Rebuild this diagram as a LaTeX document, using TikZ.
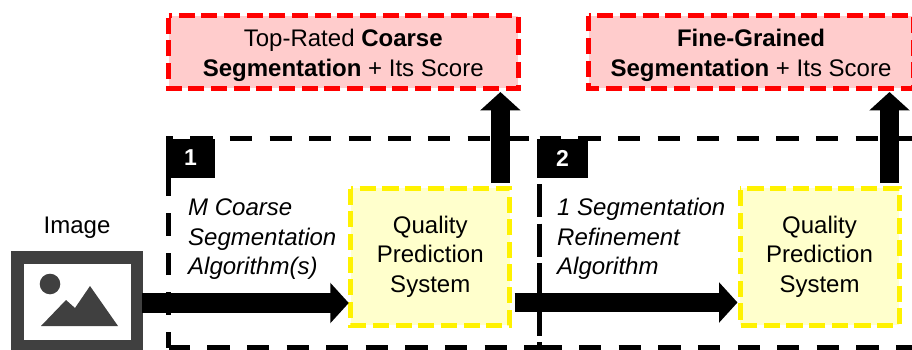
\documentclass[tikz,border=0pt]{standalone}
\usepackage{fontspec}
\setmainfont{Liberation Sans}
\usetikzlibrary{arrows.meta}
\definecolor{iconcol}{HTML}{404040}
\definecolor{redfill}{HTML}{FFCCCC}
\definecolor{yelfill}{HTML}{FFFFCC}
\tikzset{
  x=1pt,y=-1pt,
  basefont/.style={font=\fontsize{24}{29.5}\selectfont},
  frameline/.style={draw=black,line width=5pt,dash pattern=on 22.3pt off 17.3pt},
  splitline/.style={draw=black,line width=5pt,dash pattern=on 33pt off 6.6pt},
  redline/.style={draw=red,line width=5pt,dash pattern=on 16pt off 6.67pt,line join=miter},
  yelline/.style={draw=yellow,line width=5pt,dash pattern=on 16.2pt off 6.45pt,line join=miter},
  result/.style={rectangle,fill=redfill,outer sep=0pt,inner sep=0pt,minimum height=72.5pt},
  quality/.style={rectangle,fill=yelfill,outer sep=0pt,inner sep=0pt,minimum width=159pt,minimum height=137pt,align=center,basefont},
  restext/.style={inner sep=0pt,align=center,basefont},
  badge/.style={rectangle,fill=black,text=white,inner sep=0pt,minimum height=39pt,font=\fontsize{23}{23}\selectfont\bfseries},
  algo/.style={inner sep=0pt,anchor=west,align=left,font=\fontsize{24}{29.5}\selectfont\itshape},
  bigarrow/.style={line width=19.5pt,-{Triangle[length=18.5pt,width=39.5pt]}},
}
\begin{document}
\begin{tikzpicture}
\useasboundingbox (0,0) rectangle (912,350);
% frames
\coordinate (f1tl) at (168.5,138.5);
\coordinate (f1bl) at (168.5,347.5);
\coordinate (f2tl) at (539.5,138.5);
\coordinate (f2bl) at (539.5,347.5);
\coordinate (f2tr) at (925,138.5);
\coordinate (f2br) at (925,347.5);
\coordinate (f2end) at (539.5,350);
\draw[frameline,dash phase=6.8pt] (f1bl) -- (f1tl) -- (f2tl);
\draw[frameline,dash phase=0.8pt] (f1bl) -- (f2bl);
\draw[frameline,dash phase=0.8pt] (f2tl) -- (f2tr);
\draw[frameline] (f2bl) -- (f2br);
\draw[splitline,dash phase=33.7pt] (f2tl) -- (f2end);
% result boxes
\node[result,minimum width=349.5pt] (r1) at (343.25,52.25) {};
\node[result,minimum width=325pt] (r2) at (751,52.25) {};
\draw[redline,dash phase=12.4pt] (r1.north west) -- (r1.north east) -- (r1.south east) -- (r1.south west) -- cycle;
\draw[redline,dash phase=13.9pt] (r2.north west) -- (r2.north east) -- (r2.south east) -- (r2.south west) -- cycle;
\node[restext] (rt1) at ([yshift=-3pt]r1.center) {Top-Rated \textbf{Coarse}\\\textbf{Segmentation} + Its Score};
\node[restext] (rt2) at ([yshift=-3pt]r2.center) {\textbf{Fine-Grained}\\\textbf{Segmentation} + Its Score};
% quality boxes
\node[quality] (q1) at (430.25,256.5) {Quality\\Prediction\\System};
\node[quality] (q2) at (819.5,256.5) {Quality\\Prediction\\System};
\draw[yelline,dash phase=13.7pt] (q1.north west) -- (q1.north east) -- (q1.south east) -- (q1.south west) -- cycle;
\draw[yelline,dash phase=15.3pt] (q2.north west) -- (q2.north east) -- (q2.south east) -- (q2.south west) -- cycle;
% image icon
\node[rectangle,fill=iconcol,minimum width=132pt,minimum height=99pt,inner sep=0pt,outer sep=0pt] (img) at (77,300.5) {};
\node[rectangle,fill=white,minimum width=107pt,minimum height=76pt,inner sep=0pt] (imgin) at (77.5,302) {};
\fill[iconcol] (50,284) circle[radius=10.3];
\fill[iconcol] (41,326) -- (66,300) -- (75,308) -- (90,286) -- (118,326) -- cycle;
\node[inner sep=0pt,basefont] (imglabel) at (77,228) {Image};
% badges
\node[badge,minimum width=48.5pt] (b1) at (190.5,158) {1};
\node[badge,minimum width=51pt] (b2) at (562.5,158) {2};
% algorithm labels
\node[algo] (a1) at (188,239.5) {M Coarse\\Segmentation\\Algorithm(s)};
\node[algo] (a2) at (557,239) {1 Segmentation\\Refinement\\Algorithm};
% arrows
\coordinate (s1) at (142,303);
\coordinate (s2) at (514.5,302.5);
\coordinate (s3) at (500.4,183);
\coordinate (s4) at (889.5,183);
\draw[bigarrow,shorten >=2pt] (s1) -- (s1 -| q1.west);
\draw[bigarrow,shorten >=2.5pt] (s2) -- (s2 -| q2.west);
\draw[bigarrow,shorten >=3.5pt] (s3) -- (s3 |- r1.south);
\draw[bigarrow,shorten >=3.5pt] (s4) -- (s4 |- r2.south);
\end{tikzpicture}
\end{document}
